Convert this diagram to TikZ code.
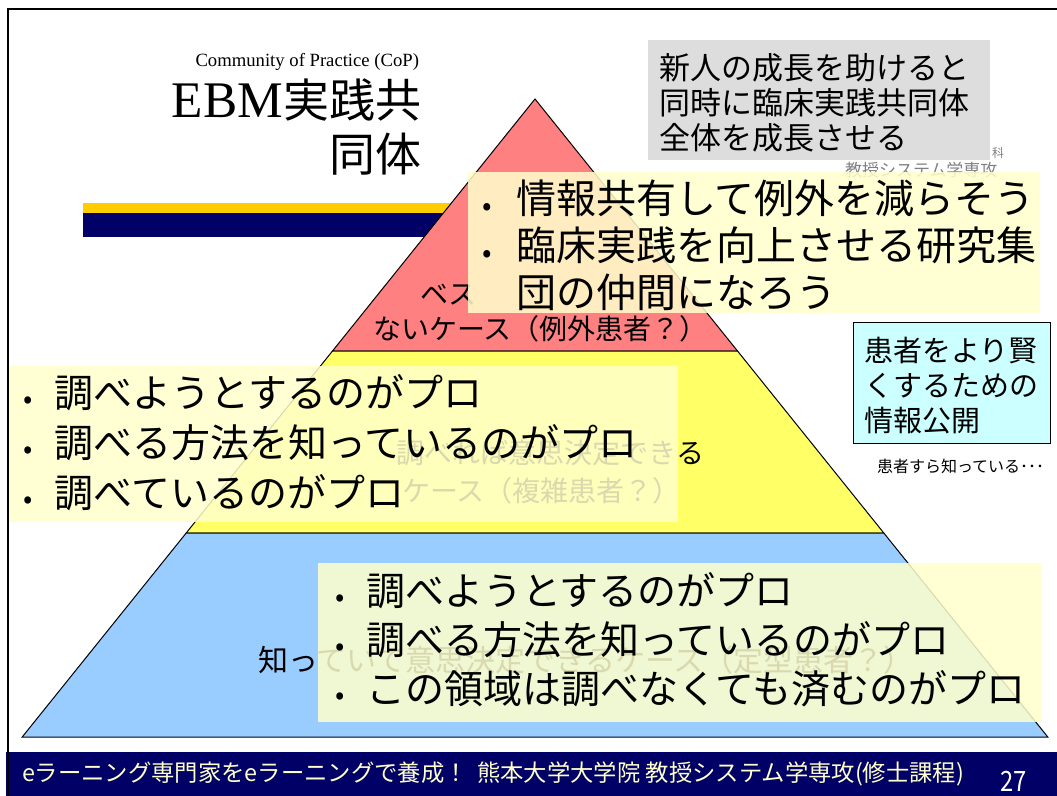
\documentclass[tikz,border=0pt]{standalone}
\usepackage{fontspec}
\setmainfont{Noto Sans CJK JP}
\newfontfamily\serifen{Liberation Serif}
\definecolor{navy}{HTML}{000066}
\definecolor{titleyellow}{HTML}{FFCC00}
\definecolor{pred}{HTML}{FF8080}
\definecolor{pyel}{HTML}{FFFF66}
\definecolor{pblue}{HTML}{99CCFF}
\definecolor{boxyel}{HTML}{FFFFCC}
\definecolor{graybox}{HTML}{DDDDDD}
\definecolor{cyanbox}{HTML}{CCFFFF}
\definecolor{footyel}{HTML}{FFFFCC}
\tikzset{
  txt/.style={inner sep=0pt, outer sep=0pt},
  lvl/.style={txt, font=\fontsize{21}{21}\selectfont},
  layer/.style={draw=black, line width=0.75pt, line join=miter},
  notebox/.style={fill=boxyel, fill opacity=0.85},
  bigtxt/.style={txt, align=left, font=\fontsize{29.5}{36.5}\selectfont},
}
\newcommand\bul[1]{\makebox[#1][l]{\hspace{0.1em}\raisebox{-0.05em}{\scalebox{0.7}{•}}}}
\begin{document}
\begin{tikzpicture}[x=0.75pt,y=-0.75pt]
\useasboundingbox (0,0) rectangle (1057,796);
\fill[white] (0,0) rectangle (1057,796);

% title bars
\fill[titleyellow] (83,203) rectangle (500,213);
\fill[navy] (83,213) rectangle (500,237);

% title
\node[txt, anchor=base east, font=\serifen\fontsize{14}{14}\selectfont] (cop) at (419,66) {Community of Practice (CoP)};
\node[txt, anchor=base east, align=right, font=\fontsize{34.5}{40.5}\selectfont] (title) at (421,171) {{\serifen\fontsize{38.5}{40.5}\selectfont EBM}実践共\\同体};

% pyramid
\coordinate (apex) at (535,99);
\coordinate (rl) at (332.5,351);
\coordinate (rr) at (737.5,351);
\coordinate (yl) at (186.2,533);
\coordinate (yr) at (883.8,533);
\coordinate (bl) at (22.2,737);
\coordinate (br) at (1047.8,737);
\filldraw[layer, fill=pred] (apex) -- (rr) -- (rl) -- cycle;
\filldraw[layer, fill=pyel] (rl) -- (rr) -- (yr) -- (yl) -- cycle;
\filldraw[layer, fill=pblue] (yl) -- (yr) -- (br) -- (bl) -- cycle;

% layer labels
\node[lvl, anchor=base west] (r1) at (420,304) {ベス};
\node[lvl, anchor=base west] (r2) at (373,339) {ないケース（例外患者？）};
\node[lvl, anchor=base east] (y1) at (704,463) {調べれば意思決定できる};
\node[lvl, anchor=base west] (y2) at (402,501) {ケース（複雑患者？）};
\node[lvl, anchor=base west, font=\fontsize{22.5}{22.5}\selectfont] (b1) at (258,671) {知っていて意思決定できるケース（定型患者？）};

% small gray texts behind
\node[txt, anchor=base west, text=gray, font=\fontsize{9}{9}\selectfont] (ka) at (992,157) {科};
\node[txt, anchor=base west, text=gray, font=\fontsize{12.75}{12.75}\selectfont] (kyo) at (845,176) {教授システム学専攻};

% gray box
\fill[graybox] (648,40) rectangle (990,160);
\node[txt, anchor=base west, align=left, font=\fontsize{23.25}{25.9}\selectfont] (grow) at (659,149) {新人の成長を助けると\\同時に臨床実践共同体\\全体を成長させる};

% top yellow box
\fill[notebox] (468,172) rectangle (1040,313);
\node[bigtxt, anchor=base west, font=\fontsize{30}{35.25}\selectfont] (top) at (478,307)
  {\bul{28.5pt}情報共有して例外を減らそう\\\bul{28.5pt}臨床実践を向上させる研究集\\\hspace*{28.5pt}団の仲間になろう};

% left yellow box
\fill[notebox] (9,366) rectangle (678,522);
\node[bigtxt, anchor=base west, font=\fontsize{29.25}{37.5}\selectfont] (left) at (20,507)
  {\bul{26pt}調べようとするのがプロ\\\bul{26pt}調べる方法を知っているのがプロ\\\bul{26pt}調べているのがプロ};

% bottom yellow box
\fill[notebox] (318,563) rectangle (1042,722);
\node[bigtxt, anchor=base west, font=\fontsize{29.25}{36.75}\selectfont] (bottom) at (332,703)
  {\bul{25.5pt}調べようとするのがプロ\\\bul{25.5pt}調べる方法を知っているのがプロ\\\bul{25.5pt}この領域は調べなくても済むのがプロ};

% cyan box
\filldraw[fill=cyanbox, draw=black, line width=0.75pt] (853,322) rectangle (1050,443);
\node[txt, anchor=base west, align=left, font=\fontsize{21.75}{26.25}\selectfont] (pat) at (864,431) {患者をより賢\\くするための\\情報公開};
\node[txt, anchor=base west, font=\fontsize{12}{12}\selectfont] (know) at (877,472) {患者すら知っている･･･};

% footer
\fill[navy] (6,752) rectangle (1057,796);
\node[txt, anchor=base west, text=footyel, font=\fontsize{17.5}{17.5}\selectfont] (foot) at (22,781) {eラーニング専門家をeラーニングで養成！\hspace{0.4em}熊本大学大学院 教授システム学専攻(修士課程)};
\node[txt, anchor=base west, text=white, font=\fontsize{21}{21}\selectfont] (page) at (1000,791) {\scalebox{0.85}[1]{27}};

% slide frame
\draw[line width=1.5pt] (7.5,796) -- (7.5,8.5) -- (1057,8.5);
\end{tikzpicture}
\end{document}
